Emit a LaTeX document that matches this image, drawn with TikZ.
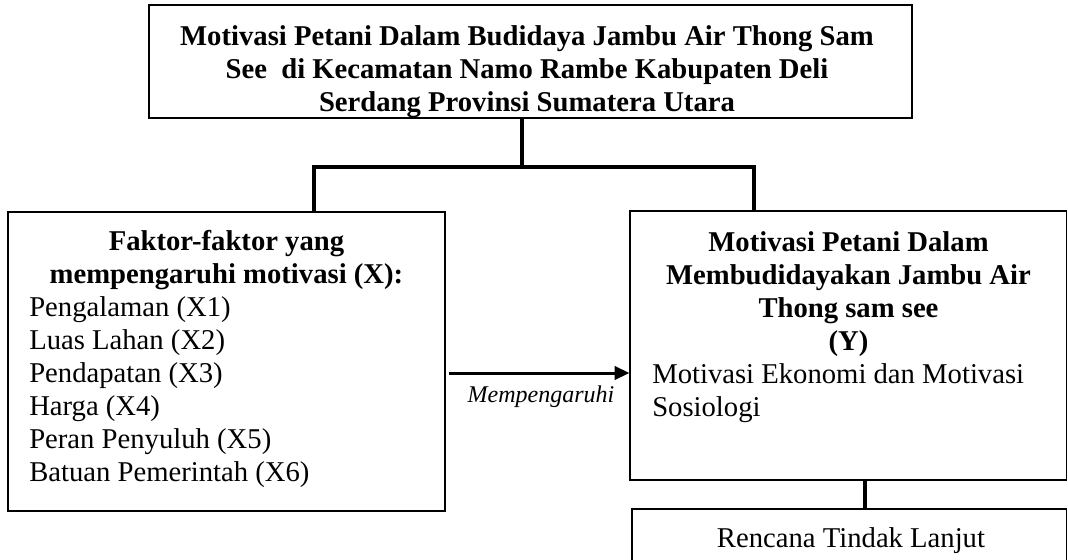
\documentclass[tikz,border=0pt]{standalone}
\usepackage{fontspec}
\setmainfont{Liberation Serif}
\usetikzlibrary{fit,arrows.meta}
\newcommand\bodysize{\fontsize{21.5pt}{24.75pt}\selectfont}
\begin{document}
\begin{tikzpicture}[x=0.75pt,y=-0.75pt,
  box/.style={draw=black, inner sep=0pt, line width=1pt},
  txt/.style={inner sep=0pt, font=\bodysize},
  btxt/.style={inner sep=0pt, font={\bodysize\bfseries}},
  conn/.style={line width=3pt, line join=miter},
  arr/.style={line width=2.25pt, -{Triangle[length=11pt,width=10pt]}}]
\clip (0,0) rectangle (1068,560);
% top box
\node[box, line width=1.7pt, fit={(149,5) (912,118)}] (top) {};
\begin{scope}
  \clip (150,6) rectangle (911,116.5);
  \node[btxt, align=center, anchor=base] (title) at (527,111.5)
    {Motivasi Petani Dalam Budidaya Jambu Air Thong Sam\\
     See\ \ di Kecamatan Namo Rambe Kabupaten Deli\\
     Serdang Provinsi Sumatera Utara};
\end{scope}
% side boxes
\node[box, fit={(8,212) (445,511)}] (left) {};
\node[box, fit={(630,211) (1066.5,480)}] (right) {};
\node[box, fit={(632,509) (1066.5,590)}] (bottom) {};
% left box text
\node[btxt, align=center, anchor=base] (ltitle) at (226.5,283)
  {Faktor-faktor yang\\ mempengaruhi motivasi (X):};
\node[txt, align=left, anchor=base west] (litems) at (29,481)
  {Pengalaman (X1)\\ Luas Lahan (X2)\\ Pendapatan (X3)\\ Harga (X4)\\
   Peran Penyuluh (X5)\\ Batuan Pemerintah (X6)};
% right box text
\node[btxt, align=center, anchor=base] (rtitle) at (848.5,350)
  {Motivasi Petani Dalam\\ Membudidayakan Jambu Air\\ Thong sam see\\ (Y)};
\node[txt, align=left, anchor=base west] (rbody) at (652,416)
  {Motivasi Ekonomi dan Motivasi\\ Sosiologi};
% bottom box text
\node[txt, anchor=base] (rtl) at (851,547) {Rencana Tindak Lanjut};
% connectors
\coordinate (tj) at (522,167);
\coordinate (jl) at (314,167);
\coordinate (jr) at (754,167);
\draw[line width=2.3pt] (tj |- top.south) -- (tj);
\draw[conn] (jl |- left.north) -- (jl) -- (jr) -- (jr |- right.north);
\coordinate (ay) at (0,373);
\draw[arr, shorten <=2.25pt] (left.east |- ay) -- (right.west |- ay);
\node[inner sep=0pt, font=\fontsize{18pt}{21pt}\selectfont\itshape, anchor=base] (lbl) at (541,402) {Mempengaruhi};
\coordinate (bj) at (865,0);
\draw[conn] (right.south -| bj) -- (bottom.north -| bj);
\end{tikzpicture}
\end{document}
